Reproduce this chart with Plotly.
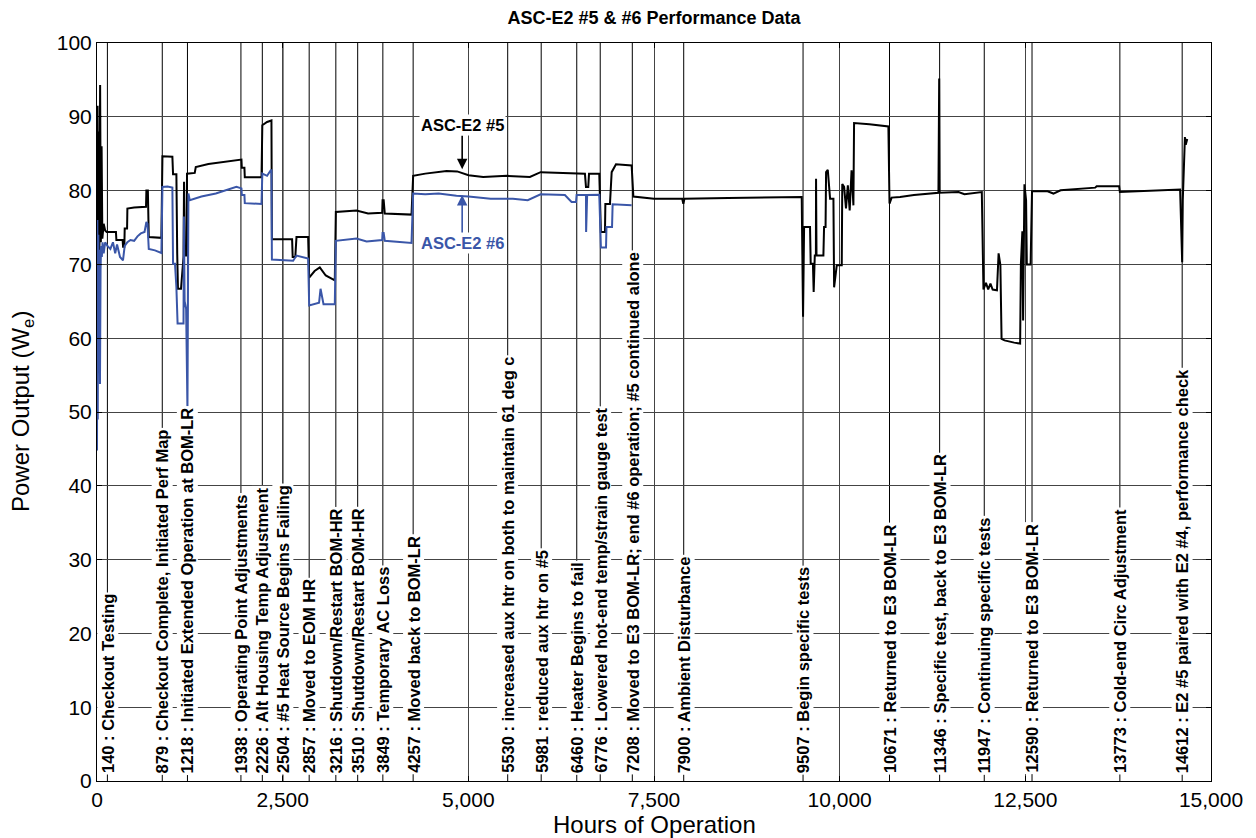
import plotly.graph_objects as go

# ---------------- data ----------------
hours5 = [0,8,15,25,32,42,52,62,72,90,
          110,130,255,261,345,351,368,373,405,409,
          500,600,660,665,685,697,800,867,881,1000,
          1015,1024,1069,1080,1090,1131,1165,1172,1180,1205,
          1212,1316,1330,1500,1720,1922,1945,1950,1985,1990,
          2215,2226,2290,2349,2355,2627,2635,2670,2686,2843,
          2857,2930,3000,3080,3202,3216,3494,3650,3840,3845,
          3860,3875,4235,4257,4420,4707,4850,5003,5200,5520,
          5829,5973,6300,6570,6584,6615,6625,6763,6785,6840,
          6845,6907,6930,6988,7199,7222,7500,7880,7895,7910,
          8500,9000,9489,9507,9521,9601,9610,9640,9650,9665,
          9680,9682,9688,9781,9790,9810,9817,9840,9871,9916,
          9925,9961,10028,10035,10060,10085,10110,10135,10160,10185,
          10194,10400,10656,10671,10700,10813,11000,11330,11340,11346,
          11600,11680,11914,11936,11970,12000,12030,12060,12118,12140,
          12164,12180,12220,12350,12430,12440,12460,12470,12488,12510,
          12520,12571,12590,12800,12878,12975,13200,13441,13460,13763,
          13773,14000,14584,14612,14620,14649,14660,14680]
power5 = [70.5,91.5,72,88,71,94.3,73,86,73.5,75.5,
          74.6,74.4,74.4,73.3,73.3,72.4,72.4,74.85,74.85,77.56,
          77.7,77.8,77.8,80.0,80.0,73.7,73.6,73.6,84.65,84.6,
          84.6,82.2,82.2,71.5,66.7,66.7,71,81.2,71.2,71.2,
          82.3,82.4,83.2,83.6,83.9,84.2,84.2,83.1,83.1,81.8,
          81.8,88.85,89.3,89.5,73.4,73.4,71.0,71.0,73.7,73.7,
          68.2,69.1,69.6,68.5,67.85,77.1,77.3,76.9,77.0,78.7,
          78.7,76.9,76.75,82.0,82.3,82.65,82.6,82.07,81.85,82.0,
          81.85,82.5,82.4,82.3,80.5,80.5,82.3,82.3,74.4,74.4,
          78.2,78.2,82.5,83.56,83.4,79.2,78.9,78.9,78.2,78.9,
          79.0,79.05,79.13,62.9,75.07,75.07,70.1,70.1,66.26,71.2,
          71.2,81.6,71.2,71.2,75.07,75.07,82.5,82.8,78.9,78.9,
          66.9,69.9,69.9,80.9,80.5,77.6,80.7,77.3,82.75,78.0,
          89.16,89.0,88.7,78.24,79.05,79.13,79.4,79.7,95.2,79.7,
          79.8,79.5,79.8,66.6,67.5,66.6,67.4,66.6,66.5,71.5,
          69.9,59.9,59.7,59.4,59.27,70.0,74.5,62.4,80.85,78.7,
          70.0,70.0,79.9,79.9,79.6,80.05,80.2,80.4,80.58,80.6,
          79.8,79.9,80.14,70.3,78.7,87.26,86.2,87.0]

hours6 = [0,5,10,18,25,32,40,48,55,65,
          75,90,110,140,180,215,245,270,310,350,
          373,409,450,500,545,590,640,665,680,697,
          780,867,881,950,1015,1024,1050,1069,1085,1131,
          1165,1170,1180,1200,1208,1218,1231,1249,1406,1600,
          1877,1945,1950,1985,1990,2215,2226,2290,2340,2349,
          2355,2641,2686,2843,2857,2990,3010,3050,3202,3216,
          3494,3630,3840,3845,3860,3875,4235,4257,4420,4600,
          4840,5003,5300,5600,5800,5973,6300,6390,6450,6458,
          6584,6586,6600,6763,6785,6854,6860,6935,6943,7199]
power6 = [44.8,76,49,74,60.7,72,53.8,69.2,72.5,71,
          73,71.5,73.0,72.5,72.1,73.0,71.5,72.7,71.0,70.55,
          72.5,73.0,73.3,73.2,73.8,74.2,74.4,75.75,75.5,72.1,
          71.9,71.55,80.5,80.55,80.4,70.1,70.1,66.9,62.0,62.0,
          62.0,76.5,65,64,50.5,50.5,79.6,78.7,79.2,79.6,
          80.5,80.3,79.4,79.4,78.3,78.2,82.3,82.0,82.75,82.75,
          70.65,70.5,71.2,70.8,64.45,64.8,66.7,64.6,64.6,73.2,
          73.5,73.1,73.3,74.25,74.25,73.2,72.9,79.6,79.5,79.6,
          79.3,79.2,78.9,78.9,78.7,79.5,79.4,78.45,78.45,79.4,
          79.4,74.4,79.4,79.45,72.3,72.3,75.07,75.07,78.15,78.0]

event_hours = [140, 879, 1218, 1938, 2226, 2504, 2857, 3216, 3510, 3849, 4257,
               5530, 5981, 6460, 6776, 7208, 7900, 9507, 10671, 11346, 11947,
               12590, 13773, 14612]
event_desc = ["Checkout Testing",
              "Checkout Complete, Initiated Perf Map",
              "Initiated Extended Operation at BOM-LR",
              "Operating Point Adjustments",
              "Alt Housing Temp Adjustment",
              "#5 Heat Source Begins Failing",
              "Moved to EOM HR",
              "Shutdown/Restart BOM-HR",
              "Shutdown/Restart BOM-HR",
              "Temporary AC Loss",
              "Moved back to BOM-LR",
              "increased aux htr on both to maintain 61 deg c",
              "reduced aux htr on #5",
              "Heater Begins to fail",
              "Lowered hot-end temp/strain gauge test",
              "Moved to E3 BOM-LR; end #6 operation; #5 continued alone",
              "Ambient Disturbance",
              "Begin specific tests",
              "Returned to E3 BOM-LR",
              "Specific test, back to E3 BOM-LR",
              "Continuing specific tests",
              "Returned to E3 BOM-LR",
              "Cold-end Circ Adjustment",
              "E2 #5 paired with E2 #4, performance check"]

series_names = ["ASC-E2 #5", "ASC-E2 #6"]
label_hour = 4917
label_tip = [82.9, 79.4]

x_ticks = [0, 2500, 5000, 7500, 10000, 12500, 15000]
y_ticks = [0, 10, 20, 30, 40, 50, 60, 70, 80, 90, 100]

BLACK = "#000000"
BLUE = "#3a56a8"
FONT = "Liberation Sans, Arial, sans-serif"

fig = go.Figure()
fig.add_trace(go.Scatter(x=hours5, y=power5, mode="lines", name=series_names[0],
                         line=dict(color=BLACK, width=2), showlegend=False))
fig.add_trace(go.Scatter(x=hours6, y=power6, mode="lines", name=series_names[1],
                         line=dict(color=BLUE, width=2), showlegend=False))

shapes = []
annotations = []
for h, d in zip(event_hours, event_desc):
    shapes.append(dict(type="line", xref="x", yref="y", x0=h, x1=h, y0=0, y1=100,
                       line=dict(color="black", width=1), layer="below"))
    annotations.append(dict(x=h, y=0.8, xref="x", yref="y", text=f"<b>{h} : {d}</b>",
                            textangle=-90, showarrow=False, xanchor="center",
                            yanchor="bottom", bgcolor="white", borderpad=1,
                            font=dict(family=FONT, size=16.5, color="black")))

# series labels with arrows
annotations.append(dict(x=label_hour, y=label_tip[0], xref="x", yref="y",
                        text=f"<b>{series_names[0]}</b>", showarrow=True,
                        ax=0, ay=-44, arrowhead=2, arrowsize=1.3, arrowwidth=1.6,
                        arrowcolor=BLACK, font=dict(family=FONT, size=16.5, color=BLACK),
                        bgcolor="white"))
annotations.append(dict(x=label_hour, y=label_tip[1], xref="x", yref="y",
                        text=f"<b>{series_names[1]}</b>", showarrow=True,
                        ax=0, ay=48, arrowhead=2, arrowsize=1.3, arrowwidth=1.6,
                        arrowcolor=BLUE, font=dict(family=FONT, size=16.5, color=BLUE),
                        bgcolor="white"))

# axis titles
annotations.append(dict(x=0, y=0.5, xref="paper", yref="paper", xshift=-75,
                        text="Power Output (W<sub>e</sub>)", textangle=-90, showarrow=False,
                        xanchor="center", yanchor="middle",
                        font=dict(family=FONT, size=24, color="black")))
annotations.append(dict(x=0.5, y=0, xref="paper", yref="paper", yshift=-43,
                        text="Hours of Operation", showarrow=False,
                        xanchor="center", yanchor="middle",
                        font=dict(family=FONT, size=24, color="black")))

fig.update_layout(
    width=1256, height=838,
    margin=dict(l=97, r=45, t=43, b=57),
    paper_bgcolor="white", plot_bgcolor="white",
    title=dict(text="<b>ASC-E2 #5 & #6 Performance Data</b>", x=0.5, xref="paper",
               y=1 - 18 / 838, yref="container", yanchor="middle", xanchor="center",
               font=dict(family=FONT, size=18, color="black")),
    shapes=shapes, annotations=annotations,
)
fig.update_xaxes(range=[0, 15000], tickvals=x_ticks,
                 ticktext=[f"{v:,}" for v in x_ticks],
                 showgrid=True, gridcolor="#444444", gridwidth=1,
                 showline=True, linecolor="black", linewidth=1, mirror="ticks",
                 ticks="inside", ticklen=5, tickcolor="black", zeroline=False,
                 tickfont=dict(family=FONT, size=21, color="black"))
fig.update_yaxes(range=[0, 100], tickvals=y_ticks,
                 showgrid=True, gridcolor="#444444", gridwidth=1,
                 showline=True, linecolor="black", linewidth=1, mirror="ticks",
                 ticks="inside", ticklen=5, tickcolor="black", zeroline=False,
                 tickfont=dict(family=FONT, size=21, color="black"))

# remove the default 8px page margin so the figure sits at the window origin
fig.write_html("out.html", config={"displayModeBar": False},
               post_script="document.body.style.margin='0';")
